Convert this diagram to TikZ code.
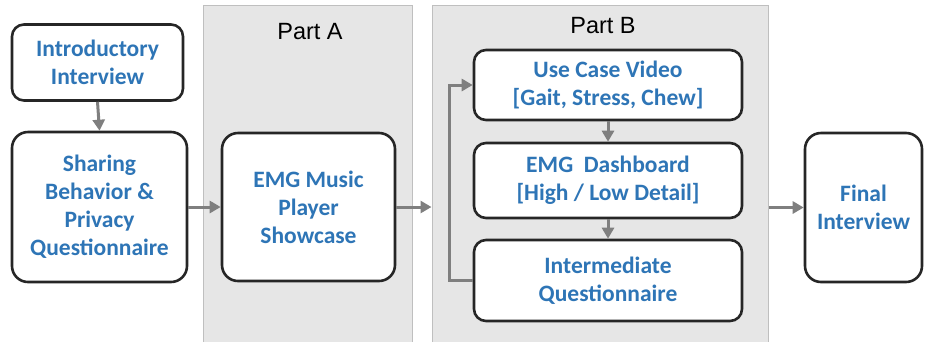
\documentclass[tikz,border=0pt]{standalone}
\usepackage{fontspec}
\setmainfont{Carlito}
\newfontfamily\partfont{Liberation Sans}
\usepackage{xcolor}
\usetikzlibrary{arrows.meta,positioning}

\definecolor{stepblue}{HTML}{2E75B6}
\definecolor{panelgray}{HTML}{E6E6E6}
\definecolor{panelline}{HTML}{BFBFBF}
\definecolor{arrowgray}{HTML}{7F7F7F}
\definecolor{boxline}{HTML}{262626}

\tikzset{
    stepbox/.style = {draw = boxline, line width = 2.6pt, fill = white, rounded corners = 16pt,
        align = center, text = stepblue, font = \bfseries\fontsize{23.5}{28}\selectfont, inner sep = 0pt},
    panel/.style = {draw = panelline, line width = 1pt, fill = panelgray, inner sep = 0pt},
    flow/.style = {draw = arrowgray, line width = 3pt, -{Triangle[length=11pt,width=12pt]}}
}

\begin{document}
\begin{tikzpicture}[x = 1pt, y = -1pt]
    \useasboundingbox (0,0) rectangle (925,341);

    % grey panels
    \node[panel, minimum width = 209pt, minimum height = 345pt](partA) at (307.5,177.5) {};
    \node[panel, minimum width = 336pt, minimum height = 345pt](partB) at (600,177.5) {};
    \node[font = \partfont\fontsize{23.5}{26}\selectfont](labelA) at (310,32) {Part A};
    \node[font = \partfont\fontsize{23.5}{26}\selectfont](labelB) at (603,26) {Part B};

    \node[stepbox, minimum width = 171pt, minimum height = 76pt, rounded corners = 12pt](intro) at (97.5,62.5) {Introductory\\Interview};
    \node[stepbox, minimum width = 175pt, minimum height = 150pt](sharing) at (99.5,207) {Sharing\\Behavior \&\\Privacy\\Questionnaire};
    \node[stepbox, minimum width = 173pt, minimum height = 148pt](musicPlayer) at (308.5,207) {EMG Music\\Player\\Showcase};

    \node[stepbox, minimum width = 268pt, minimum height = 70pt, rounded corners = 12pt](useCase) at (608,85) {Use Case Video\\{}[Gait, Stress, Chew]};
    \node[stepbox, minimum width = 268pt, minimum height = 75pt, rounded corners = 12pt](dashboard) at (608,180.5) {EMG~~Dashboard\\{}[High / Low Detail]};
    \node[stepbox, minimum width = 268pt, minimum height = 81pt, rounded corners = 12pt](intermediate) at (608,280.5) {Intermediate\\Questionnaire};

    \node[stepbox, minimum width = 117pt, minimum height = 149pt](final) at (863.5,207.5) {Final\\Interview};

    % connectors
    \draw [flow] (intro.south) -- (sharing.north);
    \draw [flow] (sharing.east) -- (musicPlayer.west);
    \draw [flow] (musicPlayer.east) -- (musicPlayer.east -| partB.west);
    \draw [flow] (useCase.south) -- (dashboard.north);
    \draw [flow] (dashboard.south) -- (intermediate.north);
    \draw [flow] (intermediate.west) -- ++(-23,0) |- (useCase.west);
    \draw [flow] (final.west -| partB.east) -- (final.west);
\end{tikzpicture}
\end{document}
